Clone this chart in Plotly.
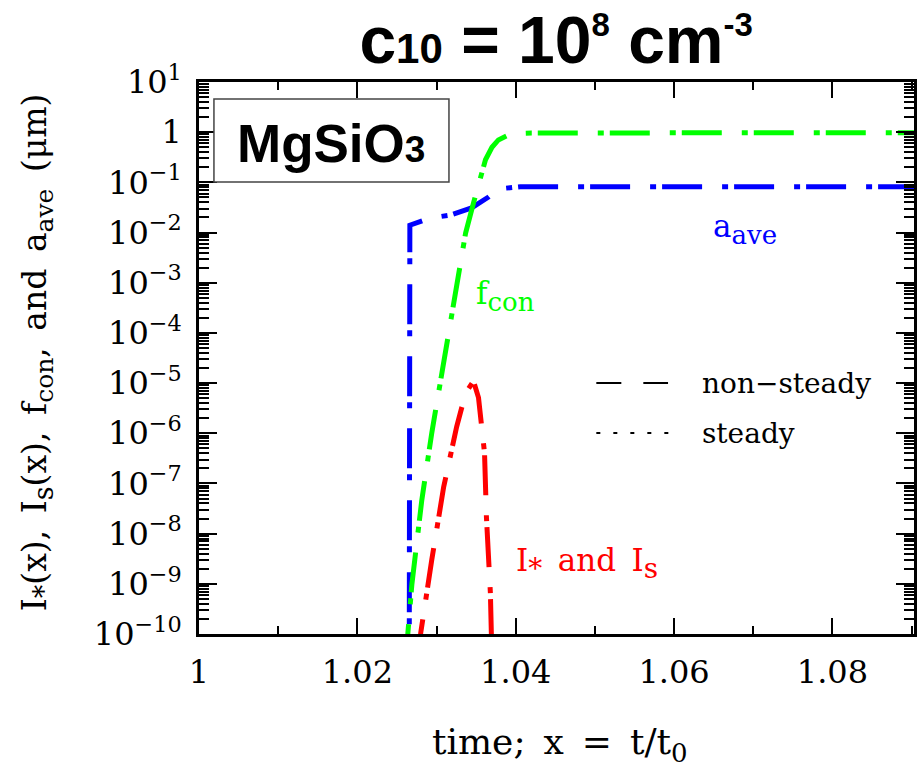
import plotly.graph_objects as go

# ---------------- data ----------------
a_ave_x = [1.02655, 1.02663, 1.02927, 1.03178, 1.03442, 1.03656, 1.03781, 1.04058, 1.0903]
a_ave_y = [1e-11, 1.4e-2, 1.95e-2, 2.24e-2, 3.1e-2, 5.1e-2, 7.4e-2, 8.2e-2, 8.2e-2]

f_con_x = [1.02620, 1.02638, 1.02688, 1.02814, 1.0294, 1.0309, 1.03254, 1.03367,
           1.03467, 1.03618, 1.03700, 1.03781, 1.03945, 1.0420, 1.0903]
f_con_logy = [-10.6, -9.98, -9.02, -7.33, -5.99, -4.54, -3.00, -2.01,
              -1.41, -0.55, -0.30, -0.155, -0.03, -0.016, -0.01]

I_x = [1.0278, 1.0280, 1.0294, 1.0309, 1.03254, 1.03367, 1.03467,
       1.0353, 1.03606, 1.0363, 1.0368, 1.03693, 1.0370]
I_logy = [-10.5, -9.98, -8.52, -7.07, -5.87, -5.20, -4.96,
          -5.29, -6.39, -7.67, -9.18, -9.98, -10.5]

y_decades = list(range(1, -11, -1))
y_ticktext = ["10<sup>1</sup>", "1"] + ["10<sup>\u2212%d</sup>" % k for k in range(1, 11)]
x_range = [1.0, 1.0903]

# ---------------- figure ----------------
SERIF = "DejaVu Serif"
dash = "40px,20px,6px,6px"
EN = "\u2002"

fig = go.Figure()
fig.add_trace(go.Scatter(x=a_ave_x, y=a_ave_y, mode="lines",
                         line=dict(color="#0000ff", width=5, dash=dash), showlegend=False))
fig.add_trace(go.Scatter(x=f_con_x, y=[10 ** v for v in f_con_logy], mode="lines",
                         line=dict(color="#00ff00", width=5, dash=dash), showlegend=False))
fig.add_trace(go.Scatter(x=I_x, y=[10 ** v for v in I_logy], mode="lines",
                         line=dict(color="#ff0000", width=5, dash=dash), showlegend=False))

minor_y = [k * 10.0 ** d for d in range(-10, 1) for k in range(2, 10)]

fig.update_xaxes(range=x_range, tick0=1.0, dtick=0.02, ticks="inside", ticklen=16,
                 tickwidth=2, tickcolor="black", mirror="allticks", showline=True,
                 linecolor="black", linewidth=2.5, showgrid=False, zeroline=False,
                 tickfont=dict(family=SERIF, size=32, color="black"),
                 ticklabelstandoff=8,
                 minor=dict(dtick=0.01, ticks="inside", ticklen=8, tickwidth=2,
                            tickcolor="black", showgrid=False))
fig.update_yaxes(type="log", range=[-10, 1], tickvals=[10.0 ** d for d in y_decades],
                 ticktext=y_ticktext, ticks="inside", ticklen=18, tickwidth=2,
                 tickcolor="black", mirror="allticks", showline=True, linecolor="black",
                 linewidth=2.5, showgrid=False, zeroline=False,
                 tickfont=dict(family=SERIF, size=32, color="black"),
                 ticklabelstandoff=8,
                 minor=dict(tickvals=minor_y, ticks="inside", ticklen=10, tickwidth=1.5,
                            tickcolor="black", showgrid=False))

def sub(t, px):
    return "<sub><span style='font-size:%dpx'>%s</span></sub>" % (px, t)

annotations = [
    # MgSiO3 box label
    dict(x=0.185, y=0.889, xref="paper", yref="paper", showarrow=False,
         text="<b>MgSiO<span style='font-size:37px'>3</span></b>",
         font=dict(family="Liberation Sans", size=53, color="black"),
         xanchor="center", yanchor="middle"),
    # curve labels
    dict(x=0.7159, y=0.7337, xref="paper", yref="paper", showarrow=False,
         text="a" + sub("ave", 26), font=dict(family=SERIF, size=31, color="#0000ff"),
         xanchor="left", yanchor="middle"),
    dict(x=0.3844, y=0.6123, xref="paper", yref="paper", showarrow=False,
         text="f" + sub("con", 26), font=dict(family=SERIF, size=31, color="#00ff00"),
         xanchor="left", yanchor="middle"),
    dict(x=0.4401, y=0.1286, xref="paper", yref="paper", showarrow=False,
         text="I" + sub("*", 28) + EN + "and" + EN + "I" + sub("s", 28),
         font=dict(family=SERIF, size=31, color="#ff0000"),
         xanchor="left", yanchor="middle"),
    # legend texts
    dict(x=0.7006, y=0.4547, xref="paper", yref="paper", showarrow=False,
         text="non\u2212steady", font=dict(family=SERIF, size=28, color="black"),
         xanchor="left", yanchor="middle"),
    dict(x=0.7006, y=0.3641, xref="paper", yref="paper", showarrow=False,
         text="steady", font=dict(family=SERIF, size=28, color="black"),
         xanchor="left", yanchor="middle"),
    # axis titles
    dict(x=0.5045, y=-0.201, xref="paper", yref="paper", showarrow=False,
         text="time;" + EN + "x" + EN + "=" + EN + "t/t" + sub("0", 26),
         font=dict(family=SERIF, size=36, color="black"),
         xanchor="center", yanchor="middle"),
    dict(x=-0.2256, y=0.51, xref="paper", yref="paper", showarrow=False, textangle=-90,
         text="I" + sub("*", 27) + "(x)," + EN + "I" + sub("s", 27) + "(x)," + EN + "f" + sub("con", 25)
              + "," + EN + "and" + EN + "a" + sub("ave", 25) + EN + "(\u03bcm)",
         font=dict(family=SERIF, size=33, color="black"),
         xanchor="center", yanchor="middle"),
]

shapes = [
    dict(type="rect", xref="paper", yref="paper", x0=0.0209, x1=0.3496, y0=0.8188, y1=0.969,
         line=dict(color="#444444", width=1.5), fillcolor="white", layer="above"),
    dict(type="line", xref="paper", yref="paper", x0=0.5557, x1=0.656, y0=0.4547, y1=0.4547,
         line=dict(color="black", width=2, dash="25px,22px")),
    dict(type="line", xref="paper", yref="paper", x0=0.5557, x1=0.6727, y0=0.3641, y1=0.3641,
         line=dict(color="black", width=2, dash="4px,13px")),
]

fig.update_layout(
    width=920, height=773,
    margin=dict(l=199, r=3, t=82, b=139),
    paper_bgcolor="white", plot_bgcolor="white",
    title=dict(text="<b>c<span style='font-size:42px'>10</span> = 10<sup><span style='font-size:33px'>8</span></sup>"
                    " cm<sup><span style='font-size:33px'>-3</span></sup></b>",
               font=dict(family="Liberation Sans", size=66, color="black"),
               x=0.6045, xanchor="center", y=0.948, yanchor="middle", yref="container"),
    annotations=annotations, shapes=shapes, showlegend=False,
)

fig.write_html("out.html")
